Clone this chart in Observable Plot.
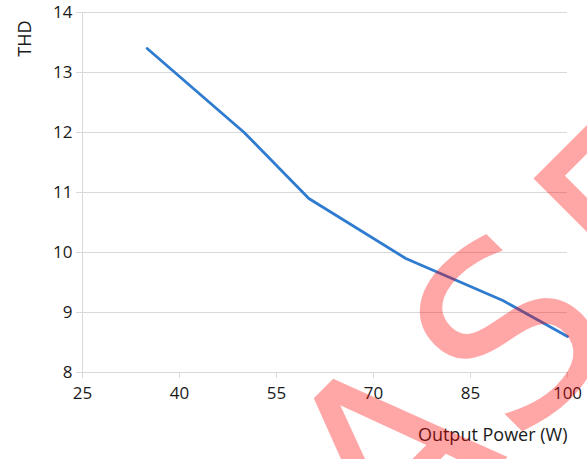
<!DOCTYPE html>
<html><head><meta charset="utf-8">
<script src="https://cdn.jsdelivr.net/npm/d3@7"></script>
<script src="https://cdn.jsdelivr.net/npm/@observablehq/plot@0.6"></script>
<style>
body{margin:0;background:#fff;}
#wrap{position:relative;width:587px;height:459px;overflow:hidden;background:#fff;}
#wm{position:absolute;left:0;top:0;pointer-events:none;}
</style></head><body><div id="wrap"></div>
<script>
const power = [35, 50, 60, 75, 90, 100];
const thd = [13.4, 12, 10.9, 9.9, 9.2, 8.6];
const xTicks = [25, 40, 55, 70, 85, 100];
const yTicks = [8, 9, 10, 11, 12, 13, 14];
const xLabel = "Output Power (W)";
const yLabel = "THD";
const watermarkLetters = ["A", "S", "E"];

const data = power.map((p, i) => ({power: p, thd: thd[i]}));
const font = "'Open Sans', 'Noto Sans', sans-serif";
const gray = "#d9d9d9";

const chart = Plot.plot({
  width: 587,
  height: 459,
  marginLeft: 82,
  marginRight: 20,
  marginTop: 12,
  marginBottom: 87,
  style: {fontFamily: font, fontSize: "17px", color: "#1a1a1a", background: "#fff"},
  x: {domain: [25, 100]},
  y: {domain: [8, 14]},
  marks: [
    Plot.gridY(yTicks, {stroke: gray, strokeOpacity: 1}),
    Plot.ruleX([25], {stroke: gray}),
    Plot.ruleY([8], {stroke: gray}),
    Plot.axisY(yTicks, {tickSize: 6, tickPadding: 4, stroke: gray, fill: "#1a1a1a", label: null, fontSize: 17, tickFormat: d => String(d)}),
    Plot.axisX(xTicks, {tickSize: 6, tickPadding: 8, stroke: gray, fill: "#1a1a1a", label: null, fontSize: 17, tickFormat: d => String(d)}),
    Plot.line(data, {x: "power", y: "thd", stroke: "#2e7bcf", strokeWidth: 2.8}),
    Plot.text([yLabel], {frameAnchor: "top-left", rotate: -90, textAnchor: "end", dx: -64, dy: 8, fontSize: 18, fill: "#1a1a1a"}),
    Plot.text([xLabel], {frameAnchor: "bottom-right", textAnchor: "end", dy: 68, fontSize: 18, fill: "#1a1a1a"})
  ]
});
const wrap = document.getElementById("wrap");
wrap.appendChild(chart);

// watermark overlay
const wm = d3.select(wrap).append("svg").attr("id", "wm").attr("width", 587).attr("height", 459);
const g = wm.append("g").attr("transform", "rotate(-45)");
const uPos = [-46, 125, 227];
const anchors = ["middle", "middle", "start"];
g.selectAll("text").data(watermarkLetters).join("text")
  .attr("x", (d, i) => uPos[i])
  .attr("y", 682)
  .attr("text-anchor", (d, i) => anchors[i])
  .attr("font-family", "'DejaVu Sans', sans-serif")
  .attr("font-size", 245)
  .attr("fill", "red")
  .attr("fill-opacity", 0.35)
  .text(d => d);
</script></body></html>
